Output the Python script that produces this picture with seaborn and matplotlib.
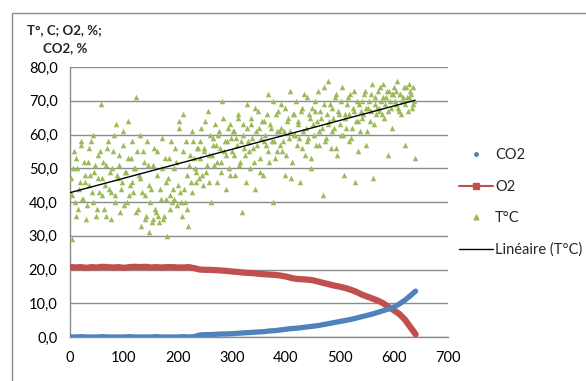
import numpy as np
import pandas as pd
import seaborn as sns
import matplotlib.pyplot as plt
from matplotlib.lines import Line2D
from matplotlib.patches import Rectangle
from matplotlib.ticker import FuncFormatter, MultipleLocator

# T°C readings, two interleaved runs (every 3 units of x, offset by 1.5)
t_x1 = list(range(0, 640, 3))
t_c1 = [
    43, 29, 50, 40, 53, 38, 46, 57, 41, 48,
    35, 52, 45, 58, 40, 49, 36, 54, 43, 69,
    47, 38, 51, 56, 44, 35, 50, 60, 42, 48,
    54, 37, 46, 61, 49, 40, 53, 45, 58, 43,
    50, 71, 38, 47, 33, 55, 42, 36, 51, 31,
    44, 35, 56, 37, 48, 34, 41, 59, 36, 46,
    30, 53, 42, 40, 50, 56, 39, 64, 43, 36,
    66, 40, 48, 33, 54, 43, 58, 50, 46, 56,
    53, 62, 45, 56, 49, 67, 54, 40, 59, 51,
    57, 46, 61, 52, 70, 55, 44, 58, 50, 63,
    55, 61, 48, 57, 66, 52, 37, 60, 54, 69,
    58, 50, 63, 56, 44, 61, 67, 53, 59, 48,
    64, 57, 72, 52, 62, 40, 58, 66, 55, 61,
    69, 55, 61, 48, 64, 59, 73, 52, 66, 60,
    57, 63, 46, 68, 61, 54, 71, 59, 65, 50,
    63, 67, 57, 73, 61, 65, 42, 69, 59, 76,
    64, 56, 68, 62, 72, 54, 66, 60, 74, 48,
    65, 69, 58, 72, 62, 67, 46, 70, 64, 61,
    70, 66, 73, 57, 68, 64, 72, 47, 69, 66,
    73, 67, 70, 75, 65, 71, 54, 73, 68, 72,
    74, 69, 76, 67, 72, 70, 74, 57, 71, 75,
    73, 68, 74, 53,
]
t_x2 = [1.5 + 3 * k for k in range(213)]
t_c2 = [
    47, 42, 55, 36, 50, 44, 58, 41, 52, 46,
    39, 56, 48, 43, 60, 51, 38, 47, 55, 42,
    52, 45, 36, 58, 49, 43, 55, 40, 63, 47,
    51, 44, 57, 39, 49, 64, 42, 53, 46, 50,
    37, 55, 48, 60, 43, 52, 35, 58, 45, 40,
    34, 51, 38, 55, 36, 44, 50, 35, 53, 41,
    47, 38, 58, 44, 41, 52, 45, 62, 40, 55,
    44, 58, 38, 51, 46, 61, 53, 49, 56, 47,
    58, 48, 55, 64, 51, 46, 60, 54, 57, 63,
    52, 60, 56, 49, 65, 58, 54, 62, 48, 59,
    61, 54, 59, 65, 51, 58, 63, 56, 46, 62,
    55, 65, 59, 52, 68, 57, 62, 49, 64, 58,
    60, 66, 55, 63, 58, 70, 53, 61, 67, 57,
    62, 58, 68, 54, 65, 61, 47, 66, 60, 70,
    64, 59, 67, 56, 72, 62, 58, 66, 53, 68,
    60, 70, 64, 57, 67, 62, 74, 58, 66, 63,
    69, 61, 65, 71, 56, 67, 63, 70, 60, 66,
    62, 71, 66, 59, 68, 73, 64, 55, 69, 67,
    65, 72, 68, 61, 70, 67, 75, 63, 71, 68,
    68, 74, 66, 71, 69, 73, 67, 70, 62, 72,
    70, 73, 68, 72, 66, 71, 69, 74, 67, 71,
    72, 69, 70,
]

# gas readings, one every 10 units of x
gas_x = list(range(0, 641, 10))
o2 = [
    20.8, 20.6, 20.7, 20.5, 20.7, 20.6, 20.8, 20.7, 20.6, 20.7,
    20.5, 20.7, 20.8, 20.7, 20.8, 20.6, 20.7, 20.6, 20.7, 20.7,
    20.6, 20.6, 20.7,
    20.4, 20.0, 19.9, 19.9, 19.8, 19.7, 19.6, 19.4, 19.3, 19.1,
    19.0, 18.9, 18.7, 18.6, 18.5,
    18.4, 18.2, 17.9, 17.5, 17.2, 17.1, 17.0, 16.8, 16.4, 16.0,
    15.6, 15.2, 14.9, 14.5, 14.0, 13.4, 12.6, 12.0, 11.4, 10.8,
    10.0, 8.9, 7.9, 6.8, 5.2, 3.0, 0.8,
]
co2 = [
    0.0, 0.0, 0.1, 0.0, 0.0, 0.0, 0.1, 0.0, 0.0, 0.0,
    0.0, 0.1, 0.0, 0.0, 0.0, 0.0, 0.1, 0.0, 0.0, 0.0,
    0.0, 0.1, 0.0, 0.1,
    0.6, 0.7, 0.7, 0.8, 0.9, 0.9, 1.0, 1.1, 1.2, 1.3,
    1.4, 1.5, 1.6, 1.8, 1.9, 2.1, 2.3, 2.5, 2.6, 2.8,
    3.0, 3.2, 3.4, 3.7, 4.0, 4.3, 4.6, 4.9, 5.2, 5.6,
    6.0, 6.4, 6.8, 7.3, 7.8, 8.3, 8.9, 9.8, 10.9, 12.2,
    13.6,
]

blue = "#4F81BD"
red = "#C0504D"
green = "#9BBB59"
grid_col = "#8C8C8C"

sns.set_theme(style="white")
plt.rcParams["font.family"] = ["Lato", "DejaVu Sans"]

temp = pd.DataFrame({"x": t_x1 + t_x2, "t": t_c1 + t_c2})
gas = pd.DataFrame({"x": gas_x, "o2": o2, "co2": co2})

fig = plt.figure(figsize=(5.86, 3.81), dpi=100)
ax = fig.add_axes([70 / 586, 1 - 337 / 381, 378 / 586, 270 / 381])

sns.scatterplot(data=temp, x="x", y="t", marker="^", s=16, color=green,
                linewidth=0, ax=ax, zorder=3)
sns.regplot(data=temp, x="x", y="t", scatter=False, ci=None, ax=ax,
            line_kws={"color": "black", "lw": 1.0, "zorder": 4})
sns.lineplot(data=gas, x="x", y="o2", color=red, lw=4.5, sort=False,
             ax=ax, zorder=3)
sns.lineplot(data=gas, x="x", y="co2", color=blue, lw=3.8, sort=False,
             ax=ax, zorder=3)

ax.set_xlim(0, 700)
ax.set_ylim(0, 80)
ax.xaxis.set_major_locator(MultipleLocator(100))
ax.yaxis.set_major_locator(MultipleLocator(10))
ax.yaxis.set_major_formatter(FuncFormatter(lambda v, p: f"{v:.1f}".replace(".", ",")))
ax.set_xlabel("")
ax.set_ylabel("")
ax.grid(axis="y", color=grid_col, lw=1.0)
ax.set_axisbelow(True)
for side in ["top", "right"]:
    ax.spines[side].set_visible(False)
for side in ["left", "bottom"]:
    ax.spines[side].set_color(grid_col)
    ax.spines[side].set_linewidth(1.0)
ax.tick_params(axis="both", which="major", direction="out", length=4,
               color=grid_col, labelsize=10.5, labelcolor="black", pad=6)
ax.tick_params(axis="y", pad=5)

fig.text(27 / 586, 1 - 30 / 381, "T°, C; O2, %;", fontsize=9.5,
         fontweight="bold", va="center", ha="left")
fig.text(43 / 586, 1 - 48 / 381, "CO2, %", fontsize=9.5,
         fontweight="bold", va="center", ha="left")

handles = [
    Line2D([], [], ls="none", marker="o", ms=2.5, color=blue),
    Line2D([], [], color=red, lw=1.5, marker="s", ms=4),
    Line2D([], [], ls="none", marker="^", ms=3.5, color=green),
    Line2D([], [], color="black", lw=1.0),
]
labels = ["CO2", "O2", "T°C", "Linéaire (T°C)"]
fig.legend(handles, labels, loc="upper left",
           bbox_to_anchor=(452 / 586, 1 - 141 / 381), frameon=False,
           fontsize=10.5, handlelength=2.3, handletextpad=0.15,
           labelspacing=1.2, borderpad=0)

fig.patches.append(Rectangle((12 / 586, -0.1), 1.2, 1 - 13 / 381 + 0.1,
                             transform=fig.transFigure, fill=False,
                             ec="#8C8C8C", lw=1.0))

fig.savefig("out.png", dpi=100)
